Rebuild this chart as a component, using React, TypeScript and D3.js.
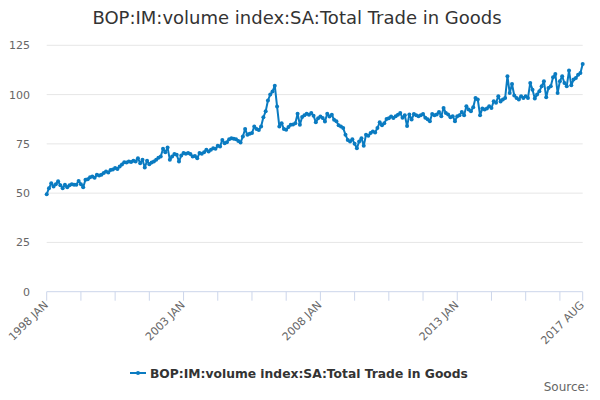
import React from "react";
import * as d3 from "d3";

const title = "BOP:IM:volume index:SA:Total Trade in Goods";
const seriesName = "BOP:IM:volume index:SA:Total Trade in Goods";
const startYear = 1998;
const monthNames = ["JAN", "FEB", "MAR", "APR", "MAY", "JUN", "JUL", "AUG", "SEP", "OCT", "NOV", "DEC"];

const v1998 = [49.5, 52.5, 55.0, 53.4, 54.5, 56.0, 54.0, 52.5, 54.2, 53.0, 54.0, 54.5];
const v1999 = [54.3, 54.2, 56.2, 54.5, 53.0, 56.8, 57.0, 58.0, 58.4, 57.8, 59.3, 59.0];
const v2000 = [59.3, 60.2, 61.0, 60.5, 61.8, 62.0, 62.7, 62.3, 63.5, 64.5, 65.7, 65.5];
const v2001 = [66.0, 65.8, 66.4, 66.0, 67.7, 65.2, 66.9, 63.0, 66.4, 64.7, 65.5, 66.0];
const v2002 = [67.0, 68.0, 68.6, 72.5, 70.8, 73.1, 66.9, 68.6, 69.8, 69.5, 66.0, 69.1];
const v2003 = [70.3, 70.0, 70.3, 69.8, 68.6, 68.8, 67.7, 70.3, 70.0, 70.8, 72.0, 71.1];
const v2004 = [72.0, 72.8, 72.5, 74.0, 73.6, 77.0, 75.3, 75.8, 77.4, 77.9, 77.6, 77.4];
const v2005 = [76.5, 75.7, 78.7, 82.5, 79.6, 80.1, 80.5, 83.8, 82.5, 82.0, 83.8, 88.5];
const v2006 = [91.5, 97.0, 100.0, 101.5, 104.5, 94.0, 83.8, 85.5, 82.5, 82.1, 83.5, 84.7];
const v2007 = [84.8, 85.5, 90.3, 84.7, 88.6, 89.5, 90.3, 89.8, 90.6, 89.3, 85.9, 88.0];
const v2008 = [88.9, 88.1, 86.4, 90.3, 88.9, 89.8, 87.2, 86.5, 84.5, 83.8, 83.0, 79.6];
const v2009 = [77.0, 76.2, 77.4, 75.0, 72.8, 76.2, 77.9, 74.0, 79.6, 79.1, 80.5, 81.3];
const v2010 = [80.8, 83.0, 85.9, 84.5, 85.5, 87.6, 88.0, 88.9, 88.1, 89.0, 89.8, 90.6];
const v2011 = [88.2, 89.5, 84.0, 89.9, 87.3, 90.2, 89.5, 89.0, 89.5, 90.2, 88.2, 87.5];
const v2012 = [86.5, 90.2, 89.5, 89.9, 91.2, 89.0, 93.2, 90.7, 89.9, 88.5, 89.0, 86.5];
const v2013 = [89.0, 89.5, 91.2, 89.5, 94.1, 92.4, 91.6, 93.6, 98.3, 97.5, 89.5, 92.9];
const v2014 = [92.4, 93.0, 94.1, 93.2, 96.6, 95.8, 99.2, 96.5, 97.5, 98.3, 109.3, 100.8];
const v2015 = [105.4, 99.5, 98.3, 97.5, 99.2, 98.3, 99.2, 98.3, 105.9, 102.5, 98.0, 100.0];
const v2016 = [101.7, 104.2, 106.8, 98.6, 103.4, 104.2, 108.8, 110.5, 100.8, 106.8, 109.3, 105.9];
const v2017 = [104.2, 112.2, 104.7, 107.6, 108.4, 110.1, 111.0, 115.5];

const values = [
  ...v1998, ...v1999, ...v2000, ...v2001, ...v2002, ...v2003, ...v2004,
  ...v2005, ...v2006, ...v2007, ...v2008, ...v2009, ...v2010, ...v2011,
  ...v2012, ...v2013, ...v2014, ...v2015, ...v2016, ...v2017,
];

const yTicks = [0, 25, 50, 75, 100, 125];
const tickEvery = 15;
const labelEvery = 60;

const monthLabel = (i: number) =>
  `${startYear + Math.floor(i / 12)} ${monthNames[i % 12]}`;

export default function App() {
  const W = 600, H = 400;
  const left = 46.7, right = 582.7, top = 45.3, bottom = 291.7;
  const n = values.length;
  const x = d3.scaleLinear().domain([0, n - 1]).range([left, right]);
  const y = d3.scaleLinear().domain([0, 125]).range([bottom, top]);
  const line = d3.line<number>().x((_, i) => x(i)).y((d) => y(d));
  const color = "#0a7bc1";
  const font = "'DejaVu Sans', Verdana, sans-serif";

  const ticks = d3.range(0, n, tickEvery);
  const labels = d3.range(0, n, labelEvery).concat([n - 1]);

  return (
    <svg width={W} height={H} style={{ position: "absolute", left: 0, top: 0, background: "#fff" }} fontFamily={font}>
      <text x={297} y={24} textAnchor="middle" fontSize={18} fill="#333">{title}</text>
      {yTicks.filter((t) => t > 0).map((t) => (
        <line key={t} x1={left} x2={right} y1={y(t)} y2={y(t)} stroke="#e6e6e6" strokeWidth={1} />
      ))}
      {yTicks.map((t) => (
        <text key={t} x={30} y={y(t) + 4} textAnchor="end" fontSize={11} fill="#666">{t}</text>
      ))}
      <line x1={left} x2={right} y1={bottom} y2={bottom} stroke="#ccd6eb" strokeWidth={1} />
      {ticks.concat([n - 1]).map((t) => (
        <line key={t} x1={x(t)} x2={x(t)} y1={bottom} y2={bottom + 9} stroke="#ccd6eb" strokeWidth={1} />
      ))}
      {labels.map((t) => (
        <text key={t} transform={`translate(${x(t) + 2},${bottom + 14}) rotate(-45)`} textAnchor="end" fontSize={11} fill="#666">
          {monthLabel(t)}
        </text>
      ))}
      <path d={line(values) || ""} fill="none" stroke={color} strokeWidth={2} strokeLinejoin="round" />
      {values.map((v, i) => (
        <circle key={i} cx={x(i)} cy={y(v)} r={2} fill={color} />
      ))}
      <line x1={130} x2={146} y1={373} y2={373} stroke={color} strokeWidth={2} />
      <circle cx={138} cy={373} r={2} fill={color} />
      <text x={150} y={377.5} fontSize={12.3} fontWeight="bold" fill="#333">{seriesName}</text>
      <text x={589} y={391} textAnchor="end" fontSize={12} fill="#666">Source:</text>
    </svg>
  );
}
